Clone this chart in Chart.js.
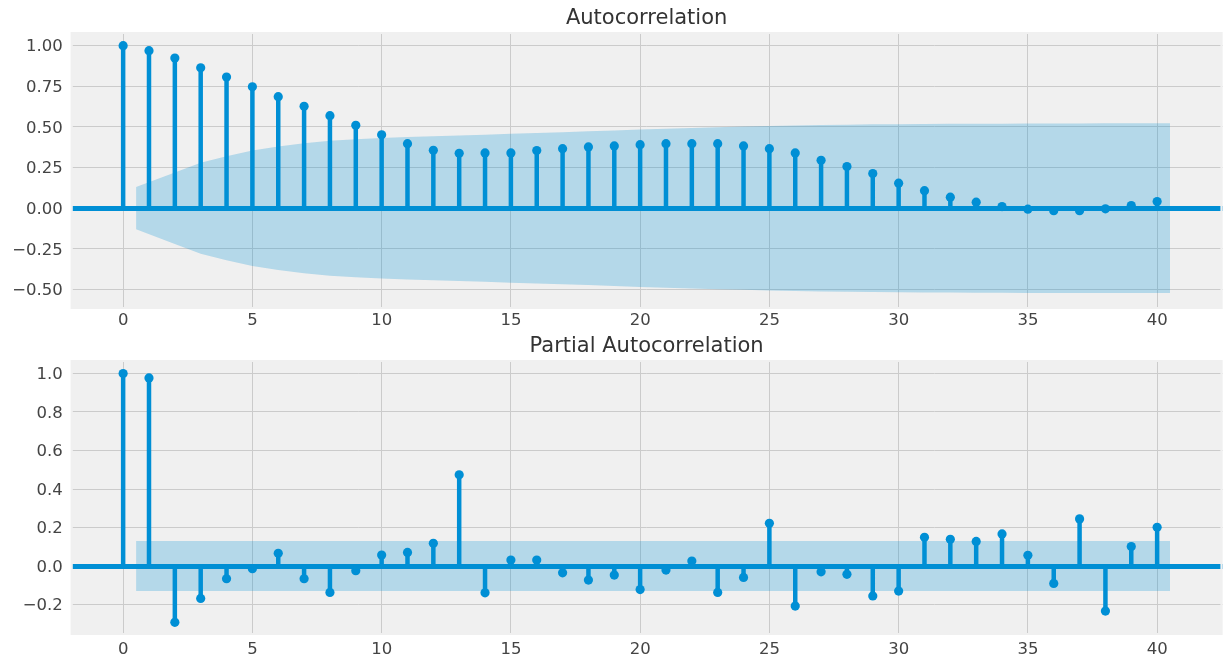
<!DOCTYPE html>
<html>
<head>
<meta charset="utf-8">
<script src="https://cdn.jsdelivr.net/npm/chart.js@4.4.1/dist/chart.umd.min.js"></script>
<style>
  html, body { margin: 0; padding: 0; background: #ffffff; }
  #wrap { position: relative; width: 1227px; height: 658px; overflow: hidden; background: #ffffff; }
  .panel { position: absolute; left: 0; width: 1227px; height: 330px; }
  #acfPanel { top: 0; }
  #pacfPanel { top: 328px; }
</style>
</head>
<body>
<div id="wrap">
  <div class="panel" id="acfPanel"><canvas id="acf" width="1227" height="330"></canvas></div>
  <div class="panel" id="pacfPanel"><canvas id="pacf" width="1227" height="330"></canvas></div>
</div>
<script>
// Lags 0..40
const lags = [0, 1, 2, 3, 4, 5, 6, 7, 8, 9, 10, 11, 12, 13, 14, 15, 16, 17, 18, 19, 20,
              21, 22, 23, 24, 25, 26, 27, 28, 29, 30, 31, 32, 33, 34, 35, 36, 37, 38, 39, 40];

// Sample autocorrelation
const acfValues = [1.000, 0.969, 0.924, 0.864, 0.807, 0.747, 0.686, 0.627, 0.569, 0.510, 0.452,
                   0.397, 0.356, 0.338, 0.340, 0.340, 0.355, 0.366, 0.377, 0.383, 0.391,
                   0.397, 0.397, 0.397, 0.383, 0.366, 0.340, 0.295, 0.256, 0.213, 0.154,
                   0.108, 0.068, 0.037, 0.010, -0.006, -0.015, -0.015, -0.004, 0.016, 0.041];

// Sample partial autocorrelation
const pacfValues = [1.000, 0.977, -0.292, -0.168, -0.066, -0.014, 0.066, -0.066, -0.137, -0.024, 0.057,
                    0.071, 0.118, 0.474, -0.139, 0.031, 0.031, -0.035, -0.073, -0.047, -0.122,
                    -0.021, 0.026, -0.137, -0.059, 0.222, -0.208, -0.030, -0.043, -0.155, -0.130,
                    0.149, 0.139, 0.128, 0.167, 0.056, -0.090, 0.245, -0.234, 0.101, 0.201];

// Confidence band positions (first and last lag widened by half a step)
const bandLags = [0.5, 2, 3, 4, 5, 6, 7, 8, 9, 10, 11, 12, 13, 14, 15, 16, 17, 18, 19, 20,
                  21, 22, 23, 24, 25, 26, 27, 28, 29, 30, 31, 32, 33, 34, 35, 36, 37, 38, 39, 40.5];

// Half-width of the 95% confidence band
const acfBand = [0.130, 0.220, 0.280, 0.320, 0.355, 0.380, 0.400, 0.415, 0.425, 0.432,
                 0.438, 0.443, 0.447, 0.452, 0.458, 0.463, 0.468, 0.473, 0.478, 0.484,
                 0.489, 0.494, 0.498, 0.502, 0.506, 0.509, 0.512, 0.514, 0.516, 0.517,
                 0.518, 0.519, 0.520, 0.520, 0.521, 0.521, 0.521, 0.522, 0.522, 0.522];
const pacfBand = [0.13, 0.13, 0.13, 0.13, 0.13, 0.13, 0.13, 0.13, 0.13, 0.13,
                  0.13, 0.13, 0.13, 0.13, 0.13, 0.13, 0.13, 0.13, 0.13, 0.13,
                  0.13, 0.13, 0.13, 0.13, 0.13, 0.13, 0.13, 0.13, 0.13, 0.13,
                  0.13, 0.13, 0.13, 0.13, 0.13, 0.13, 0.13, 0.13, 0.13, 0.13];

// Axis ticks
const xTicks = [0, 5, 10, 15, 20, 25, 30, 35, 40];
const xTickLabels = ['0', '5', '10', '15', '20', '25', '30', '35', '40'];
const acfYTicks = [-0.5, -0.25, 0, 0.25, 0.5, 0.75, 1.0];
const acfYTickLabels = ['\u22120.50', '\u22120.25', '0.00', '0.25', '0.50', '0.75', '1.00'];
const pacfYTicks = [-0.2, 0, 0.2, 0.4, 0.6, 0.8, 1.0];
const pacfYTickLabels = ['\u22120.2', '0.0', '0.2', '0.4', '0.6', '0.8', '1.0'];

const BLUE = '#008fd5';
const BAND = 'rgba(0, 143, 213, 0.25)';
const PANEL_BG = '#f0f0f0';
const GRID = '#cbcbcb';
const FONT = 'DejaVu Sans';

// Paints the panel background and trims grid lines at the frame edge
const panelPlugin = {
  id: 'panel',
  beforeDraw(chart) {
    const { ctx, chartArea: a } = chart;
    ctx.save();
    ctx.fillStyle = '#ffffff';
    ctx.fillRect(0, 0, chart.width, chart.height);
    ctx.fillStyle = PANEL_BG;
    ctx.fillRect(a.left, a.top, a.right - a.left, a.bottom - a.top);
    ctx.restore();
  },
  afterDatasetsDraw(chart) {
    const { ctx, chartArea: a } = chart;
    ctx.save();
    ctx.beginPath();
    ctx.rect(a.left, a.top, a.right - a.left, a.bottom - a.top);
    ctx.clip();
    ctx.strokeStyle = PANEL_BG;
    ctx.lineWidth = 4;
    ctx.strokeRect(a.left, a.top, a.right - a.left, a.bottom - a.top);
    ctx.restore();
  }
};

function stemChart(canvasId, opts) {
  const stems = [];
  lags.forEach((lag, i) => {
    stems.push({ x: lag, y: 0 }, { x: lag, y: opts.values[i] }, { x: lag, y: null });
  });
  const dots = lags.map((lag, i) => ({ x: lag, y: opts.values[i] }));
  const upper = bandLags.map((lag, i) => ({ x: lag, y: opts.band[i] }));
  const lower = bandLags.map((lag, i) => ({ x: lag, y: -opts.band[i] }));

  return new Chart(document.getElementById(canvasId), {
    type: 'line',
    data: {
      datasets: [
        { data: upper, fill: 'origin', backgroundColor: BAND, borderWidth: 0, pointRadius: 0, tension: 0, order: 4 },
        { data: lower, fill: 'origin', backgroundColor: BAND, borderWidth: 0, pointRadius: 0, tension: 0, order: 3 },
        { data: stems, borderColor: BLUE, borderWidth: 4.5, borderCapStyle: 'butt', pointRadius: 0,
          spanGaps: false, fill: false, order: 2 },
        { data: dots, showLine: false, pointRadius: 4.6, pointBackgroundColor: BLUE, pointBorderWidth: 0,
          pointHoverRadius: 0, order: 1 }
      ]
    },
    options: {
      responsive: false,
      animation: false,
      events: [],
      layout: { padding: { left: 0, right: 1, top: 0, bottom: 0 } },
      plugins: {
        legend: { display: false },
        tooltip: { enabled: false },
        title: {
          display: true,
          text: opts.title,
          fullSize: false,
          align: 'center',
          color: '#333333',
          font: { family: FONT, size: 21, weight: 'normal', lineHeight: 1.2 },
          padding: { top: 6, bottom: 0.8 }
        }
      },
      scales: {
        x: {
          type: 'linear',
          min: -2.025,
          max: 42.525,
          grid: { color: GRID, lineWidth: 1, drawTicks: false, z: -1 },
          border: { display: false },
          afterBuildTicks: s => { s.ticks = xTicks.map(v => ({ value: v })); },
          afterFit: s => { s.height = opts.xAxisHeight; },
          ticks: {
            color: '#444444',
            font: { family: FONT, size: 16.5 },
            padding: opts.xLabelPad,
            maxRotation: 0,
            callback: v => xTickLabels[xTicks.indexOf(v)]
          }
        },
        y: {
          type: 'linear',
          min: opts.yMin,
          max: opts.yMax,
          grid: {
            drawTicks: false,
            color: c => (c.tick && c.tick.value === 0 ? BLUE : GRID),
            lineWidth: c => (c.tick && c.tick.value === 0 ? 5 : 1)
          },
          border: { display: false },
          afterBuildTicks: s => { s.ticks = opts.yTicks.map(v => ({ value: v })); },
          afterFit: s => { s.width = 70.8; },
          ticks: {
            color: '#444444',
            font: { family: FONT, size: 16.5 },
            padding: 8,
            labelOffset: 1.5,
            callback: v => opts.yLabels[opts.yTicks.indexOf(v)]
          }
        }
      }
    },
    plugins: [panelPlugin]
  });
}

stemChart('acf', {
  title: 'Autocorrelation',
  values: acfValues,
  band: acfBand,
  yMin: -0.62,
  yMax: 1.084,
  yTicks: acfYTicks,
  yLabels: acfYTickLabels,
  xAxisHeight: 21,
  xLabelPad: 2
});

stemChart('pacf', {
  title: 'Partial Autocorrelation',
  values: pacfValues,
  band: pacfBand,
  yMin: -0.358,
  yMax: 1.07,
  yTicks: pacfYTicks,
  yLabels: pacfYTickLabels,
  xAxisHeight: 23,
  xLabelPad: 4.5
});
</script>
</body>
</html>
